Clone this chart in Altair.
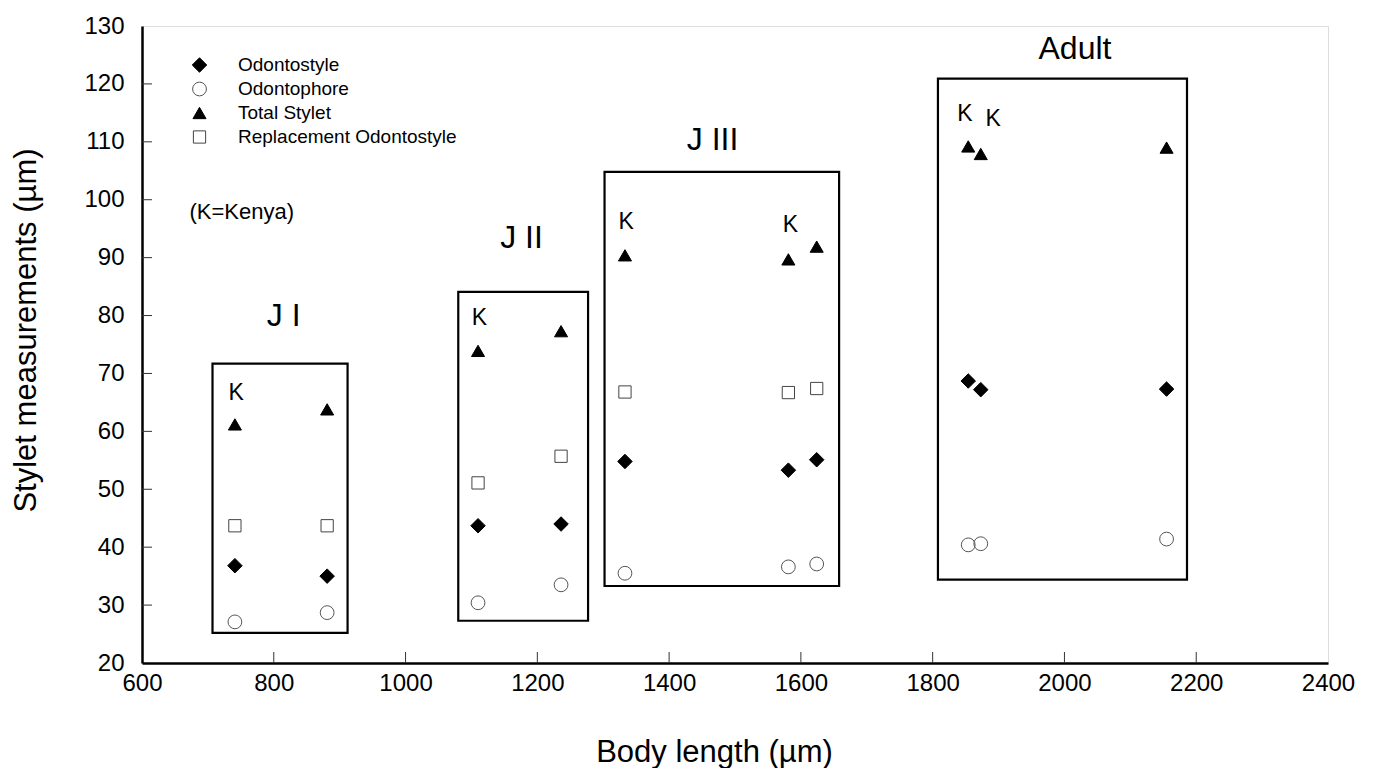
import altair as alt
import pandas as pd

# ---- data ----
body_length = [741, 881, 1110, 1236, 1333, 1581, 1624, 1854, 1873, 2155]
odontostyle = [36.8, 35.0, 43.7, 44.0, 54.8, 53.3, 55.1, 68.7, 67.2, 67.3]
odontophore = [27.1, 28.7, 30.4, 33.5, 35.5, 36.6, 37.1, 40.4, 40.6, 41.4]
total_stylet = [61.2, 63.8, 73.9, 77.3, 90.4, 89.7, 91.9, 109.2, 107.9, 109.0]
replacement = [43.7, 43.7, 51.1, 55.7, 66.8, 66.7, 67.4, None, None, None]

series_names = ["Odontostyle", "Odontophore", "Total Stylet", "Replacement Odontostyle"]
series_shapes = ["diamond", "circle", "triangle-up", "square"]
series_fill = ["black", "transparent", "black", "transparent"]
series_stroke = ["black", "#555555", "black", "#444444"]
series_size = [210, 150, 240, 150]

stage_names = ["J I", "J II", "J III", "Adult"]
box_x_start = [707, 1080, 1302, 1808]
box_x_end = [912, 1277, 1658, 2186]
box_y_low = [25.2, 27.3, 33.3, 34.4]
box_y_high = [71.7, 84.1, 104.8, 120.9]
stage_label_x = [815, 1176, 1466, 2016]
stage_label_y = [80.0, 93.4, 110.3, 126.1]

kenya_x = [743, 1112, 1335, 1584, 1849, 1892]
kenya_y = [66.7, 79.5, 96.1, 95.6, 114.8, 113.9]
note_text = ["(K=Kenya)"]
note_x = [672]
note_y = [97.9]

x_ticks = [600, 800, 1000, 1200, 1400, 1600, 1800, 2000, 2200, 2400]
y_ticks = [20, 30, 40, 50, 60, 70, 80, 90, 100, 110, 120, 130]

FONT = "Liberation Sans"
W, H = 1186, 637

# ---- tables ----
rows = []
for name, vals in zip(series_names, [odontostyle, odontophore, total_stylet, replacement]):
    for xv, yv in zip(body_length, vals):
        if yv is not None:
            rows.append({"series": name, "x": xv, "y": yv})
pts = pd.DataFrame(rows)
boxes = pd.DataFrame({"stage": stage_names, "x0": box_x_start, "x1": box_x_end,
                      "y0": box_y_low, "y1": box_y_high,
                      "lx": stage_label_x, "ly": stage_label_y})
kdf = pd.DataFrame({"x": kenya_x, "y": kenya_y, "t": ["K"] * len(kenya_x)})
ndf = pd.DataFrame({"x": note_x, "y": note_y, "t": note_text})
xt = pd.DataFrame({"v": x_ticks[1:-1]})
yt = pd.DataFrame({"v": y_ticks[1:-1]})

xs = alt.Scale(domain=[600, 2400], nice=False, zero=False)
ys = alt.Scale(domain=[20, 130], nice=False, zero=False)

x_axis = alt.Axis(values=x_ticks, title="Body length (µm)", grid=False, ticks=False,
                  domain=True, domainColor="black", domainWidth=2.5,
                  labelFontSize=24, labelFont=FONT, labelColor="black", labelPadding=8,
                  labelFlush=False, labelOverlap=False,
                  titleFontSize=31, titleFont=FONT, titleFontWeight="normal",
                  titleColor="black", titlePadding=42, titleX=572, titleAlign="center",
                  format="d")
y_axis = alt.Axis(values=y_ticks, title="Stylet measurements (µm)", grid=False, ticks=False,
                  domain=True, domainColor="black", domainWidth=2.5,
                  labelFontSize=24, labelFont=FONT, labelColor="black", labelPadding=18,
                  labelFlush=False, labelOverlap=False,
                  titleFontSize=31, titleFont=FONT, titleFontWeight="normal",
                  titleColor="black", titlePadding=41, titleY=304, titleAlign="center",
                  format="d")

legend = alt.Legend(title=None, orient="none", legendX=48, legendY=29.5,
                    labelFontSize=19, labelFont=FONT, labelColor="black", labelLimit=0,
                    labelOffset=29, padding=0, rowPadding=4, symbolStrokeWidth=1)

points = alt.Chart(pts).mark_point(strokeWidth=1, opacity=1).encode(
    x=alt.X("x:Q", scale=xs, axis=x_axis),
    y=alt.Y("y:Q", scale=ys, axis=y_axis),
    shape=alt.Shape("series:N", scale=alt.Scale(domain=series_names, range=series_shapes), legend=legend),
    fill=alt.Fill("series:N", scale=alt.Scale(domain=series_names, range=series_fill), legend=legend),
    stroke=alt.Stroke("series:N", scale=alt.Scale(domain=series_names, range=series_stroke), legend=legend),
    size=alt.Size("series:N", scale=alt.Scale(domain=series_names, range=series_size), legend=legend),
)

rects = alt.Chart(boxes).mark_rect(fillOpacity=0, stroke="black", strokeWidth=2.2).encode(
    x=alt.X("x0:Q", scale=xs), x2="x1:Q",
    y=alt.Y("y0:Q", scale=ys), y2="y1:Q",
)

stage_text = alt.Chart(boxes).mark_text(fontSize=32, font=FONT, color="black",
                                         align="center", baseline="middle").encode(
    x=alt.X("lx:Q", scale=xs), y=alt.Y("ly:Q", scale=ys), text="stage:N")

k_text = alt.Chart(kdf).mark_text(fontSize=23, font=FONT, color="black",
                                  align="center", baseline="middle").encode(
    x=alt.X("x:Q", scale=xs), y=alt.Y("y:Q", scale=ys), text="t:N")

note = alt.Chart(ndf).mark_text(fontSize=22, font=FONT, color="black",
                                align="left", baseline="middle").encode(
    x=alt.X("x:Q", scale=xs), y=alt.Y("y:Q", scale=ys), text="t:N")

x_tick_marks = alt.Chart(xt).mark_rule(color="#333333", strokeWidth=1).encode(
    x=alt.X("v:Q", scale=xs), y=alt.value(H), y2=alt.value(H - 11))
y_tick_marks = alt.Chart(yt).mark_rule(color="#333333", strokeWidth=1).encode(
    y=alt.Y("v:Q", scale=ys), x=alt.value(0), x2=alt.value(10))

chart = alt.layer(rects, x_tick_marks, y_tick_marks, points, stage_text, k_text, note).properties(
    width=W, height=H,
    autosize=alt.AutoSizeParams(type="none"),
    padding={"left": 134, "top": 18, "right": 40, "bottom": 105},
).configure_view(stroke="black", strokeWidth=2).configure(background="white")

chart.save("out.html", embed_options={"renderer": "svg", "actions": False})
